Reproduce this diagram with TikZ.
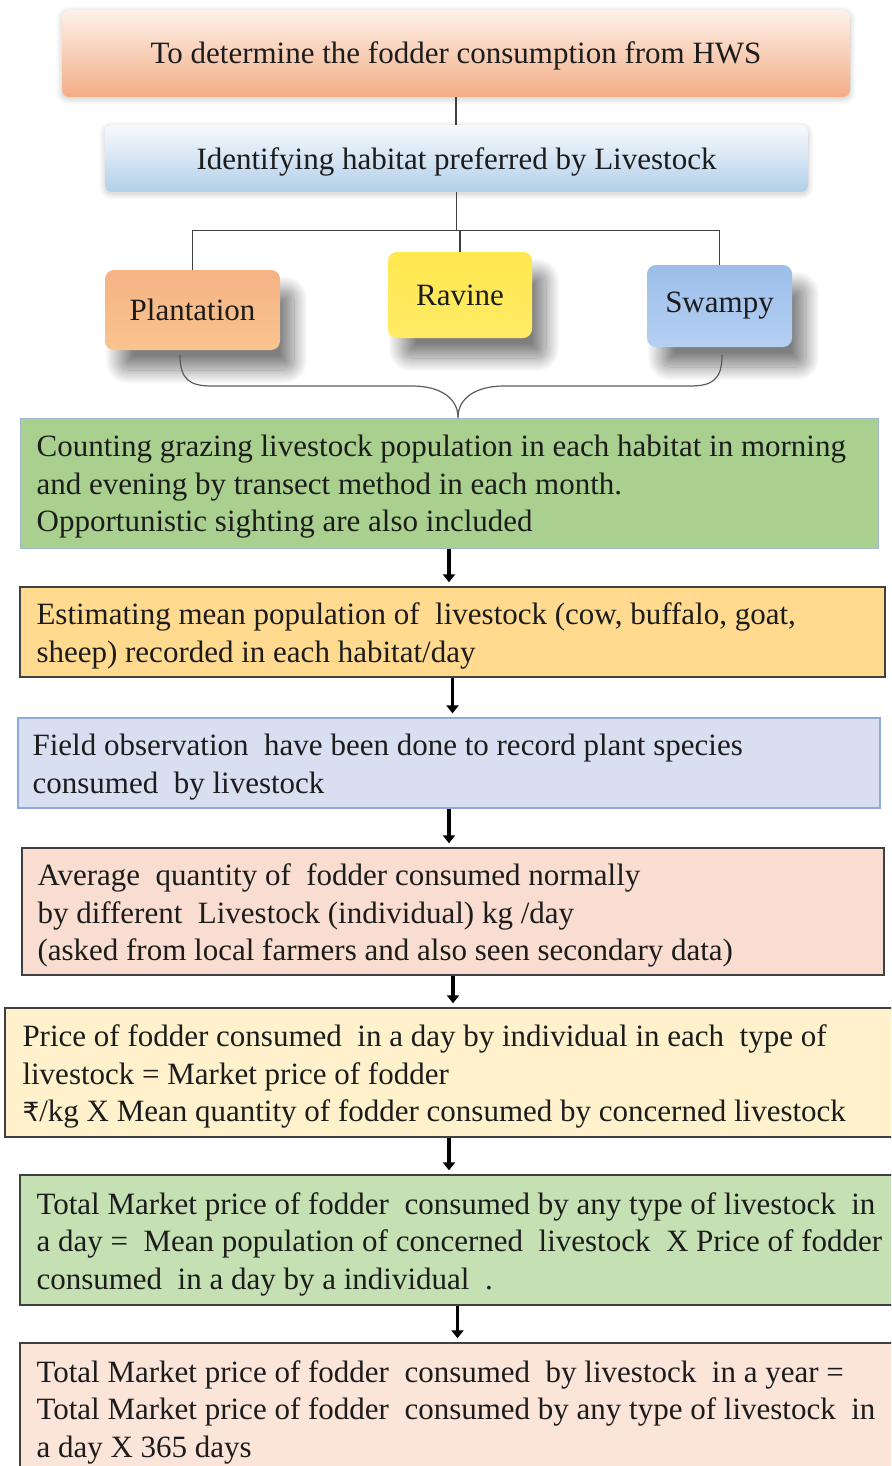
\documentclass[tikz,border=0pt]{standalone}
\usepackage{fontspec}
\setmainfont{Liberation Serif}
\newfontfamily\rupeefont{DejaVu Sans}[Scale=0.85]
\usetikzlibrary{arrows.meta,shadows.blur,calc}

\definecolor{titletop}{HTML}{FDF1E9}
\definecolor{titlebot}{HTML}{F3AD86}
\definecolor{habtop}{HTML}{F7FAFD}
\definecolor{habbot}{HTML}{B3CFEA}
\definecolor{plantmid}{HTML}{F4A36B}
\definecolor{planttop}{HTML}{F6B385}
\definecolor{plantbot}{HTML}{F8C48F}
\definecolor{ravmid}{HTML}{FFE02E}
\definecolor{ravtop}{HTML}{FFE84F}
\definecolor{ravbot}{HTML}{FFEB66}
\definecolor{swmid}{HTML}{86AEE4}
\definecolor{swtop}{HTML}{9DBEEA}
\definecolor{swbot}{HTML}{B4CFF2}
\definecolor{countfill}{HTML}{A9D08E}
\definecolor{countedge}{HTML}{9FB8CF}
\definecolor{estfill}{HTML}{FFDA8F}
\definecolor{fieldfill}{HTML}{D8DFF1}
\definecolor{fieldedge}{HTML}{8EAADB}
\definecolor{avgfill}{HTML}{F8DDD0}
\definecolor{pricefill}{HTML}{FFF1CB}
\definecolor{dayfill}{HTML}{C5E0B3}
\definecolor{yearfill}{HTML}{FBE4D8}
\definecolor{ink}{HTML}{1C1C1C}
\definecolor{edge}{HTML}{404040}
\definecolor{bracecol}{HTML}{5A5A66}

\begin{document}
\begin{tikzpicture}[x=1pt,y=-1pt,
  every node/.style={font=\fontsize{31}{37.5}\selectfont, text=ink},
  headbox/.style={rounded corners=7pt, inner sep=0pt, text height=27pt, text depth=7pt,
    blur shadow={shadow xshift=0pt, shadow yshift=-2pt, shadow blur radius=6pt,
      shadow blur steps=20, shadow opacity=22}},
  habbox/.style={rounded corners=9pt, inner sep=0pt,
    blur shadow={shadow xshift=14pt, shadow yshift=-20pt, shadow blur radius=14pt,
      shadow blur steps=30, shadow opacity=50}},
  stepbox/.style={draw=edge, line width=1.4pt, inner sep=0pt},
  txt/.style={anchor=west, align=left, inner sep=0pt, yshift=-4pt},
  conn/.style={draw=edge, line width=1.3pt},
  flow/.style={draw=black, line width=3.4pt, -{Triangle[width=12pt,length=8pt]}, shorten >=4pt},
  brace/.style={draw=bracecol, line width=1.2pt}
]
\clip (0,0) rectangle (891,1466);
\useasboundingbox (0,0) rectangle (891,1466);

% heading boxes
\node[headbox, top color=titletop, bottom color=titlebot,
      minimum width=788pt, minimum height=87pt] (title) at (456,53.5)
      {To determine the fodder consumption from HWS};
\node[headbox, top color=habtop, bottom color=habbot, text height=29pt,
      minimum width=703pt, minimum height=67pt] (hab) at (456.5,158.5)
      {Identifying habitat preferred by Livestock};

% habitat types
\node[habbox, top color=planttop, middle color=plantmid, bottom color=plantbot,
      minimum width=175pt, minimum height=80pt] (plant) at (192.5,310) {Plantation};
\node[habbox, top color=ravtop, middle color=ravmid, bottom color=ravbot,
      minimum width=144pt, minimum height=86pt] (ravine) at (460,295) {Ravine};
\node[habbox, top color=swtop, middle color=swmid, bottom color=swbot,
      minimum width=145pt, minimum height=82pt] (swamp) at (719.5,306) {Swampy};

% tree connectors
\draw[conn] (title.south) -- (title.south |- hab.north);
\draw[conn] (hab.south) -- ++(0,38) coordinate (hub);
\draw[conn] (hub) -| (plant.north);
\draw[conn] (hub) -| (swamp.north);
\draw[conn] (hub -| ravine.north) -- (ravine.north);

% procedure steps
\node[draw=countedge, line width=1pt, fill=countfill, inner sep=0pt,
      minimum width=858pt, minimum height=130pt] (count) at (449,483) {};
\node[txt] (counttxt) at ([xshift=17pt]count.west)
  {Counting grazing livestock population in each habitat in morning\\
   and evening by transect method in each month.\\
   Opportunistic sighting are also included};

\node[stepbox, fill=estfill, minimum width=865pt, minimum height=90pt] (est) at (452.5,632) {};
\node[txt] (esttxt) at ([xshift=17pt]est.west)
  {Estimating mean population of \ livestock (cow, buffalo, goat,\\
   sheep) recorded in each habitat/day};

\node[draw=fieldedge, line width=1.2pt, fill=fieldfill, inner sep=0pt,
      minimum width=862pt, minimum height=90pt] (field) at (449,763) {};
\node[txt] (fieldtxt) at ([xshift=15pt]field.west)
  {Field observation \ have been done to record plant species\\
   consumed \ by livestock};

\node[stepbox, fill=avgfill, minimum width=862pt, minimum height=127pt] (avg) at (453,911.5) {};
\node[txt] (avgtxt) at ([xshift=16pt]avg.west)
  {Average \ quantity of \ fodder consumed normally\\
   by different \ Livestock (individual) kg /day\\
   (asked from local farmers and also seen secondary data)};

\node[stepbox, fill=pricefill, minimum width=888pt, minimum height=129pt] (price) at (449,1072.5) {};
\node[txt] (pricetxt) at ([xshift=18pt]price.west)
  {Price of fodder consumed \ in a day by individual in each \ type of\\
   livestock = Market price of fodder\\
   {\rupeefont ₹}/kg X Mean quantity of fodder consumed by concerned livestock};

\node[stepbox, fill=dayfill, minimum width=875pt, minimum height=130pt] (day) at (457.5,1240) {};
\node[txt] (daytxt) at ([xshift=17pt]day.west)
  {Total Market price of fodder \ consumed by any type of livestock \ in\\
   a day = \ Mean population of concerned \ livestock \ X Price of fodder\\
   consumed \ in a day by a individual \ .};

\node[stepbox, fill=yearfill, minimum width=875pt, minimum height=130pt] (year) at (457.5,1408) {};
\node[txt] (yeartxt) at ([xshift=17pt]year.west)
  {Total Market price of fodder \ consumed \ by livestock \ in a year =\\
   Total Market price of fodder \ consumed by any type of livestock \ in\\
   a day X 365 days};

% brace gathering the habitats
\draw[brace] (180,355) .. controls (180,380) and (190,386) .. (212,386)
  -- (412,386) .. controls (440,386) and (458,398) .. (count.north -| 458,0);
\draw[brace] (722,355) .. controls (722,380) and (712,386) .. (690,386)
  -- (504,386) .. controls (476,386) and (458,398) .. (count.north -| 458,0);

% flow arrows
\draw[flow] (count.south) -- (count.south |- est.north);
\draw[flow] (est.south) -- (est.south |- field.north);
\draw[flow] (field.south) -- (field.south |- avg.north);
\draw[flow] (avg.south) -- (avg.south |- price.north);
\draw[flow] (price.south) -- (price.south |- day.north);
\draw[flow] (day.south) -- (day.south |- year.north);
\end{tikzpicture}
\end{document}
